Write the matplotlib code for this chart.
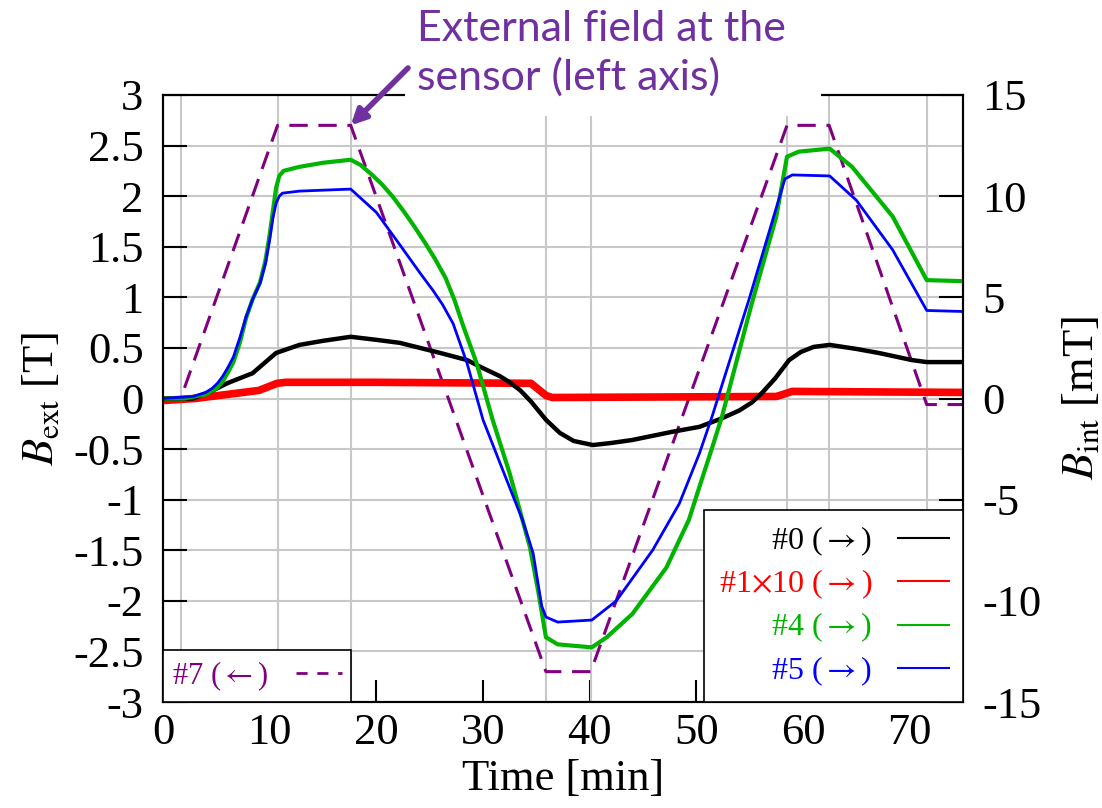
import matplotlib
matplotlib.use("Agg")
import matplotlib.pyplot as plt
from matplotlib.lines import Line2D
from matplotlib.patches import Rectangle
from matplotlib.text import Annotation

plt.rcParams['font.family'] = ['Liberation Serif', 'DejaVu Serif']
plt.rcParams['mathtext.fontset'] = 'stix'
plt.rcParams['axes.unicode_minus'] = False

# corners of the field ramp -> vertical grid lines [min]
ramp_times = [1.66, 10.74, 17.6, 35.9, 40.1, 58.5, 62.45, 71.6]

# #7, external field at the sensor (left axis) [T]
t_ext = [0, 1.66, 10.74, 17.6, 35.9, 40.1, 58.5, 62.45, 71.6, 75]
b_ext = [0, 0, 2.7, 2.7, -2.7, -2.7, 2.7, 2.7, -0.06, -0.06]

# #0 internal field [mT]
t_s0 = [0, 2.8, 4.5, 6, 8.4, 10.6, 12.8, 15, 17.6, 20, 22.2, 24.1, 26, 28.5, 30,
        31.6, 32.5, 33.5, 34.5, 35.9, 37.2, 38.5, 40.3, 42, 44, 47.7, 50.3, 52.3,
        54, 55.2, 56.2, 57.4, 58.7, 59.8, 61, 62.5, 65, 67.1, 70.2, 71.6, 75]
b_s0 = [0, 0, 0.35, 0.75, 1.25, 2.25, 2.65, 2.85, 3.05, 2.9, 2.75, 2.5, 2.25, 1.9, 1.5,
        1.1, 0.8, 0.4, -0.15, -1.05, -1.7, -2.1, -2.3, -2.2, -2.05, -1.65, -1.4, -1.0,
        -0.6, -0.2, 0.3, 1.0, 1.9, 2.3, 2.55, 2.65, 2.45, 2.25, 1.9, 1.8, 1.8]

# #1 internal field x10 [mT]
t_s1 = [0, 3, 6, 9, 10.7, 11.5, 20, 34.5, 35.9, 36.5, 57.5, 59, 75]
b_s1 = [-0.1, 0, 0.2, 0.4, 0.75, 0.8, 0.8, 0.75, 0.15, 0.05, 0.1, 0.35, 0.3]

# #4 internal field [mT]
t_s4 = [0, 2, 4, 5, 5.6, 6.1, 6.6, 7.2, 7.8, 8.4, 9.1, 9.6, 10, 10.3, 10.6, 10.9,
        11.3, 12.8, 15, 17.6, 18.5, 19.5, 20.5, 21.5, 22.5, 23.5, 24.5, 25.5, 26.5,
        27.3, 28.2, 29.4, 30.9, 32.5, 34.4, 35.2, 35.9, 37, 40.2, 41.6, 44, 47.2, 49.3,
        50.3, 51.5, 52.4, 55.2, 57.5, 58.5, 59.6, 62.5, 64.6, 68.4, 71.6, 75]
b_s4 = [0, 0, 0.2, 0.5, 0.85, 1.3, 1.8, 2.75, 4.0, 4.9, 5.75, 6.8, 8.1, 9.25, 10.4,
        11.0, 11.25, 11.45, 11.65, 11.8, 11.55, 11.1, 10.6, 10.0, 9.3, 8.55, 7.75, 6.9,
        5.95, 4.9, 3.5, 1.75, -1.05, -3.7, -7.35, -9.6, -11.8, -12.15, -12.3, -11.8,
        -10.65, -8.35, -6.0, -4.35, -2.4, -0.9, 4.7, 9.0, 11.95, 12.2, 12.35, 11.45,
        9.0, 5.85, 5.8]

# #5 internal field [mT]
t_s5 = [0, 2.8, 4, 4.6, 5.1, 5.6, 6.1, 6.6, 7.2, 7.8, 8.4, 9.1, 9.6, 10, 10.3, 10.6,
        10.9, 11.2, 12.8, 17.6, 20, 22.2, 24.1, 25.3, 26.2, 27.2, 28.5, 30, 31.6, 33.7,
        34.7, 35.5, 35.9, 37, 40.2, 42.5, 45.9, 48.4, 50.3, 51.5, 55, 58.3, 59, 62.5,
        65, 68.4, 71.6, 75]
b_s5 = [0, 0.1, 0.3, 0.5, 0.75, 1.1, 1.55, 2.05, 3.0, 4.05, 4.9, 5.7, 6.65, 7.85,
        8.9, 9.65, 10.0, 10.15, 10.25, 10.35, 9.2, 7.6, 6.2, 5.35, 4.65, 3.7, 1.75,
        -1.05, -3.2, -6.0, -7.65, -10.25, -10.8, -11.05, -10.95, -10.0, -7.5, -5.2,
        -2.7, -0.85, 5.0, 10.85, 11.05, 11.0, 9.8, 7.35, 4.35, 4.3]

left_ticks = [-3, -2.5, -2, -1.5, -1, -0.5, 0, 0.5, 1, 1.5, 2, 2.5, 3]
right_ticks = [-15, -10, -5, 0, 5, 10, 15]
time_ticks = [0, 10, 20, 30, 40, 50, 60, 70]

PURPLE = '#800080'
NOTE = '#7030A0'
RED, GREEN, BLUE = '#ff0000', '#00b400', '#0000ff'
FS = 32
RA = r'($\rightarrow$)'
LA = r'($\leftarrow$)'

fig, ax = plt.subplots(figsize=(11.02, 8.08), dpi=100)
fig.subplots_adjust(left=163/1102, right=963/1102, top=1-95/808, bottom=1-702/808)
ax2 = ax.twinx()

ax.set_xlim(0, 75)
ax.set_ylim(-3, 3)
ax2.set_ylim(-15, 15)

ax.set_xticks(time_ticks)
ax.set_xticks(ramp_times, minor=True)
ax.set_yticks(left_ticks)
ax.set_yticklabels([f'{v:g}' for v in left_ticks])
ax2.set_yticks(right_ticks)

ax.grid(axis='y', which='major', color='#c8c8c8', lw=1.5)
ax.grid(axis='x', which='minor', color='#c8c8c8', lw=1.5)
ax.tick_params(axis='x', which='minor', length=0)
ax.tick_params(axis='x', which='major', direction='in', length=16, width=1.5,
               labelsize=FS, pad=8)
ax.tick_params(axis='y', direction='in', length=17, width=1.5, labelsize=FS, pad=14)
ax2.tick_params(axis='y', direction='in', length=17, width=1.5, labelsize=FS, pad=14)
for a in (ax, ax2):
    for s in a.spines.values():
        s.set_linewidth(1.5)

ax.plot(t_ext, b_ext, color=PURPLE, lw=2.2, dashes=(6, 3.5))

# measured signals are noisy; the noise band is shown by the line width
ax2.plot(t_s1, b_s1, color=RED, lw=5.5)
ax2.plot(t_s0, b_s0, color='black', lw=3.2)
ax2.plot(t_s4, b_s4, color=GREEN, lw=3)
ax2.plot(t_s5, b_s5, color=BLUE, lw=2)

ax.set_xlabel('Time [min]', fontsize=FS, labelpad=4)
ax.set_ylabel(r'$B_{\mathrm{ext}}$ [T]', fontsize=FS, labelpad=8)
ax2.set_ylabel(r'$B_{\mathrm{int}}$ [mT]', fontsize=FS, labelpad=14)

handles = [Line2D([], [], color='black', lw=1.5, label='#0 ' + RA),
           Line2D([], [], color=RED, lw=1.5, label=r'#1$\times$10 ' + RA),
           Line2D([], [], color=GREEN, lw=1.5, label='#4 ' + RA),
           Line2D([], [], color=BLUE, lw=1.5, label='#5 ' + RA)]
leg = ax2.legend(handles=handles, loc='lower right', markerfirst=False,
                 labelcolor='linecolor', fancybox=False, edgecolor='black',
                 framealpha=1, borderaxespad=0, fontsize=23, handlelength=1.6,
                 handletextpad=0.8, labelspacing=0.3, borderpad=0.45)
leg.get_frame().set_linewidth(1.2)
ax2.add_artist(leg)
h7 = Line2D([], [], color=PURPLE, lw=2, dashes=(4, 3.5), label='#7 ' + LA)
leg7 = ax2.legend(handles=[h7], loc='lower left', markerfirst=False,
                  labelcolor='linecolor', fancybox=False, edgecolor='black',
                  framealpha=1, borderaxespad=0, fontsize=22, handlelength=1.5,
                  handletextpad=0.9, borderpad=0.3)
leg7.get_frame().set_linewidth(1.2)

# note above the plot, on a white box that hides the top frame
fig.add_artist(Rectangle((405/1102, 1-116/808), (821-405)/1102, 116/808,
                         transform=fig.transFigure, facecolor='white',
                         edgecolor='none', zorder=2))
fig.text(417/1102, 1-10/808, 'External field at the\nsensor (left axis)',
         ha='left', va='top', fontsize=31, color=NOTE, linespacing=1.3,
         family=['Lato', 'DejaVu Sans'], zorder=4)
fig.add_artist(Annotation('', xy=(17.6, 2.7), xycoords=ax.transData,
                          xytext=(408/1102, 1-68/808), textcoords=fig.transFigure,
                          arrowprops=dict(arrowstyle='-|>,head_length=0.9,head_width=0.45',
                                          color=NOTE, lw=4, shrinkA=0, shrinkB=0)))

fig.savefig('out.png', dpi=100)
